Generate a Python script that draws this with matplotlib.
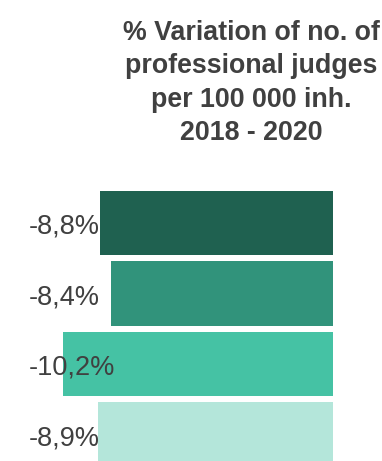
import matplotlib
matplotlib.use("Agg")
import matplotlib.pyplot as plt
import matplotlib.transforms as mtransforms

plt.rcParams['font.family'] = ['Liberation Sans', 'DejaVu Sans']

title = "% Variation of no. of\nprofessional judges\nper 100 000 inh.\n2018 - 2020"
values = [-8.8, -8.4, -10.2, -8.9]
labels = ["-8,8%", "-8,4%", "-10,2%", "-8,9%"]
colors = ["#1f6150", "#31937b", "#45c2a4", "#b4e6da"]

W, H = 382, 461
fig = plt.figure(figsize=(W / 100, H / 100), dpi=100)
ax = fig.add_axes([0, 0, 1, 1])

pos = list(range(len(values)))
ax.barh(pos, values, height=0.91, color=colors)

# zero sits near the right edge, bars grow to the left
scale = 26.45
ax.set_xlim(-333 / scale, (W - 333) / scale)
ax.set_ylim((H - 223) / 70.5, -223 / 70.5)
ax.axis('off')

tr = mtransforms.blended_transform_factory(ax.transAxes, ax.transData)
for i, lab in enumerate(labels):
    ax.text(29 / W, i + 0.05, lab, transform=tr, ha='left', va='center',
            fontsize=19.5, color='#404040')

fig.text(251 / W, 1 - 83 / H, title, ha='center', va='center',
         fontsize=19.3, fontweight='bold', color='#404040', linespacing=1.37)

fig.savefig("out.png", dpi=100)
